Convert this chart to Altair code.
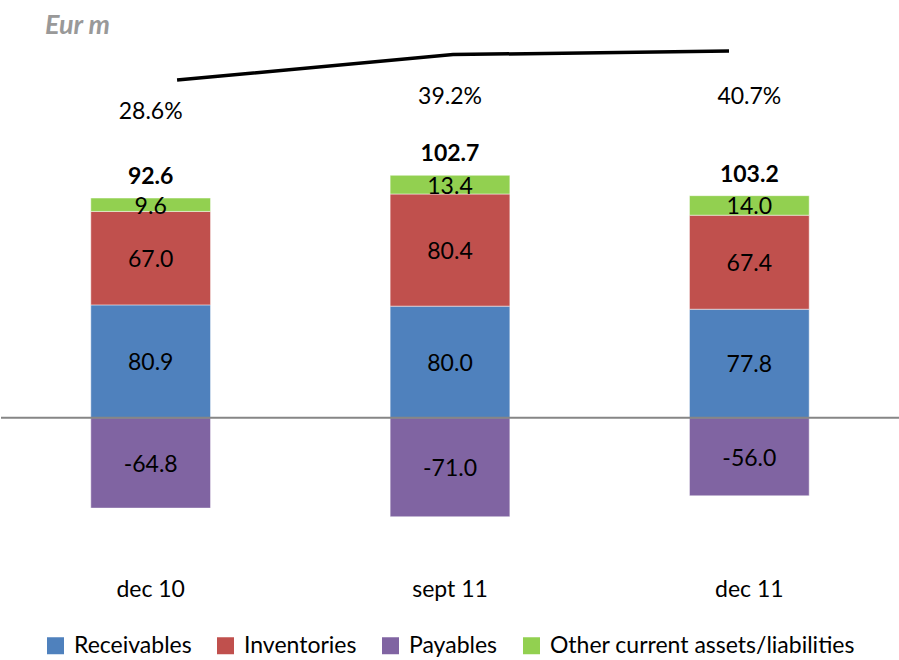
import altair as alt
import pandas as pd

# ---- data ----
categories = ["dec 10", "sept 11", "dec 11"]
series = ["Receivables", "Inventories", "Payables", "Other current assets/liabilities"]
colors = ["#4F81BD", "#C0504D", "#8064A2", "#92D050"]

receivables = [80.9, 80.0, 77.8]
inventories = [67.0, 80.4, 67.4]
payables = [-64.8, -71.0, -56.0]
other = [9.6, 13.4, 14.0]
net_totals = [92.6, 102.7, 103.2]
pct_values = [28.6, 39.2, 40.7]

FONT = "Lato"

# ---- build tables from the arrays ----
rows = []
for i, cat in enumerate(categories):
    pos = 0.0
    for name, vals in [("Receivables", receivables), ("Inventories", inventories),
                       ("Other current assets/liabilities", other)]:
        v = vals[i]
        rows.append(dict(cat=cat, series=name, value=v, y0=pos, y1=pos + v,
                         mid=pos + v / 2, label=f"{v:.1f}"))
        pos += v
    v = payables[i]
    rows.append(dict(cat=cat, series="Payables", value=v, y0=0.0, y1=v,
                     mid=v / 2, label=f"{v:.1f}"))
seg_df = pd.DataFrame(rows)

tot_df = pd.DataFrame({
    "cat": categories,
    "top": [receivables[i] + inventories[i] + other[i] for i in range(3)],
    "net": net_totals,
    "total_label": [f"{t:.1f}" for t in net_totals],
    "pct_label": [f"{p:.1f}%" for p in pct_values],
})

line_df = pd.DataFrame({"idx": list(range(len(categories))), "pct": pct_values})
zero_df = pd.DataFrame({"z": [0]})

yscale = alt.Scale(domain=[-102.0, 270.8], nice=False, zero=False)
xscale = alt.Scale(domain=categories, paddingInner=0.6, paddingOuter=0.3)

x_enc = alt.X("cat:N", sort=categories, scale=xscale, title=None,
              axis=alt.Axis(labelAngle=0, ticks=False, tickSize=0, domain=False,
                            labelPadding=18, labelFont=FONT, labelFontSize=23,
                            labelColor="black", grid=False))

bars = alt.Chart(seg_df).mark_bar(stroke="white", strokeWidth=0.8, strokeOpacity=0.6).encode(
    x=x_enc,
    y=alt.Y("y0:Q", scale=yscale, axis=None),
    y2="y1:Q",
    color=alt.Color("series:N", scale=alt.Scale(domain=series, range=colors),
                    legend=alt.Legend(title=None, orient="none", legendX=43, legendY=594,
                                      direction="horizontal", symbolType="square",
                                      symbolSize=289, symbolStrokeWidth=0,
                                      labelFont=FONT, labelFontSize=23, labelColor="black",
                                      labelOffset=7, columnPadding=22, labelLimit=0)),
)

seg_labels = alt.Chart(seg_df).mark_text(font=FONT, fontSize=23, color="black",
                                         baseline="middle", dy=2).encode(
    x=alt.X("cat:N", sort=categories, scale=xscale),
    y=alt.Y("mid:Q", scale=yscale),
    text="label:N",
)

zero_rule = alt.Chart(zero_df).mark_rule(color="#868686", strokeWidth=2).encode(
    y=alt.Y("z:Q", scale=yscale)
)

totals = alt.Chart(tot_df).mark_text(font=FONT, fontSize=23, fontWeight="bold",
                                     color="black", baseline="middle", dy=-21).encode(
    x=alt.X("cat:N", sort=categories, scale=xscale),
    y=alt.Y("top:Q", scale=yscale),
    text="total_label:N",
)

pct_labels = alt.Chart(tot_df).mark_text(font=FONT, fontSize=23, color="black",
                                         baseline="middle", dy=-177).encode(
    x=alt.X("cat:N", sort=categories, scale=xscale),
    y=alt.Y("net:Q", scale=yscale),
    text="pct_label:N",
)

base = alt.layer(bars, seg_labels, zero_rule, totals, pct_labels)

line = alt.Chart(line_df).mark_line(color="black", strokeWidth=3.5).encode(
    x=alt.X("idx:Q", scale=alt.Scale(domain=[-0.638, 2.616], nice=False, zero=False), axis=None),
    y=alt.Y("pct:Q", scale=alt.Scale(domain=[-171.6, 45.29], nice=False, zero=False), axis=None),
)

chart = alt.layer(base, line).resolve_scale(x="independent", y="independent").properties(
    width=898,
    height=520,
    padding={"left": 1, "top": 40, "right": 0, "bottom": 100},
    autosize=alt.AutoSizeParams(type="none"),
    background="white",
    title=alt.TitleParams("Eur m", anchor="start", frame="group", dx=44, offset=0,
                          font=FONT, fontSize=27, fontStyle="italic", fontWeight="bold",
                          color="#999999"),
).configure_view(strokeWidth=0, stroke=None)

chart.save("out.html", embed_options={"renderer": "svg", "actions": False})
